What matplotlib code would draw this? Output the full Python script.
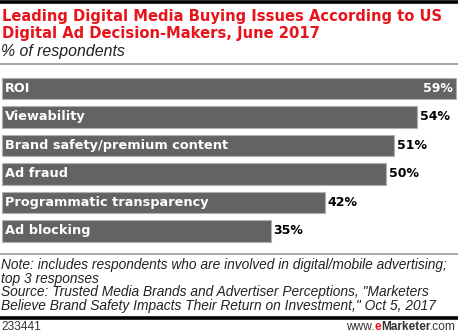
import matplotlib.pyplot as plt
import numpy as np

categories = ["ROI", "Viewability", "Brand safety/premium content",
              "Ad fraud", "Programmatic transparency", "Ad blocking"]
values = [59, 54, 51, 50, 42, 35]

title = "Leading Digital Media Buying Issues According to US\nDigital Ad Decision-Makers, June 2017"
subtitle = "% of respondents"
note = ("Note: includes respondents who are involved in digital/mobile advertising;\n"
        "top 3 responses\n"
        "Source: Trusted Media Brands and Advertiser Perceptions, \"Marketers\n"
        "Believe Brand Safety Impacts Their Return on Investment,\" Oct 5, 2017")
chart_id = "233441"

W, H = 458, 333
fig = plt.figure(figsize=(W / 100, H / 100), dpi=100)


def fy(px):
    # pixel row (from top) -> figure fraction
    return 1 - px / H


# header / footer rules
fig.add_artist(plt.Line2D([0, 1], [fy(1.5), fy(1.5)], color="black", lw=2.6))
fig.add_artist(plt.Line2D([0, 1], [fy(64), fy(64)], color="#999999", lw=1.2))
fig.add_artist(plt.Line2D([0, 1], [fy(254), fy(254)], color="#999999", lw=1.2))
fig.add_artist(plt.Line2D([0, 1], [fy(317.5), fy(317.5)], color="black", lw=2.6))

fig.text(2 / W, fy(9), title, color="#e8141b", fontsize=10.6, fontweight="bold",
         family="DejaVu Sans", va="top", ha="left", linespacing=1.2)
fig.text(1 / W, fy(44), subtitle, fontsize=11.4, style="italic",
         family="Liberation Sans", va="top", ha="left", color="#222222")

fig.text(1 / W, fy(258.5), note, fontsize=9.9, style="italic",
         family="Liberation Sans", va="top", ha="left", color="#222222",
         linespacing=0.95)
fig.text(1 / W, fy(321), chart_id, fontsize=8.6, family="Liberation Sans",
         va="top", ha="left", color="#333333")

# eMarketer wordmark, laid out right to left piece by piece
renderer = fig.canvas.get_renderer()
pieces = [(".com", "normal", "#333333"), ("Marketer", "bold", "#333333"),
          ("e", "bold", "#e8141b"), ("www.", "normal", "#333333")]
x_right = W - 2
for s, weight, col in pieces:
    t = fig.text(x_right / W, fy(321), s, fontsize=8.6, family="Liberation Sans",
                 fontweight=weight, va="top", ha="right", color=col)
    x_right -= t.get_window_extent(renderer).width

# bar area between the two grey rules
ax = fig.add_axes([0, fy(254), 1, (254 - 64) / H])
y = np.arange(len(categories))
ax.barh(y, values, height=0.75, color="#636363", edgecolor="#b0b0b0", linewidth=0.8)
ax.set_xlim(-0.2, 59.3)
ax.set_ylim(5.81, -0.86)
ax.axis("off")

for i, (cat, v) in enumerate(zip(categories, values)):
    ax.text(0.4, i, cat, color="white", fontsize=9.3, fontweight="bold",
            family="DejaVu Sans", va="center", ha="left")
    if i == 0:
        ax.text(v - 0.4, i, f"{v}%", color="white", fontsize=9.0, fontweight="bold",
                family="DejaVu Sans", va="center", ha="right")
    else:
        ax.text(v + 0.35, i, f"{v}%", color="black", fontsize=9.0, fontweight="bold",
                family="DejaVu Sans", va="center", ha="left")

fig.savefig("out.png", dpi=100)
